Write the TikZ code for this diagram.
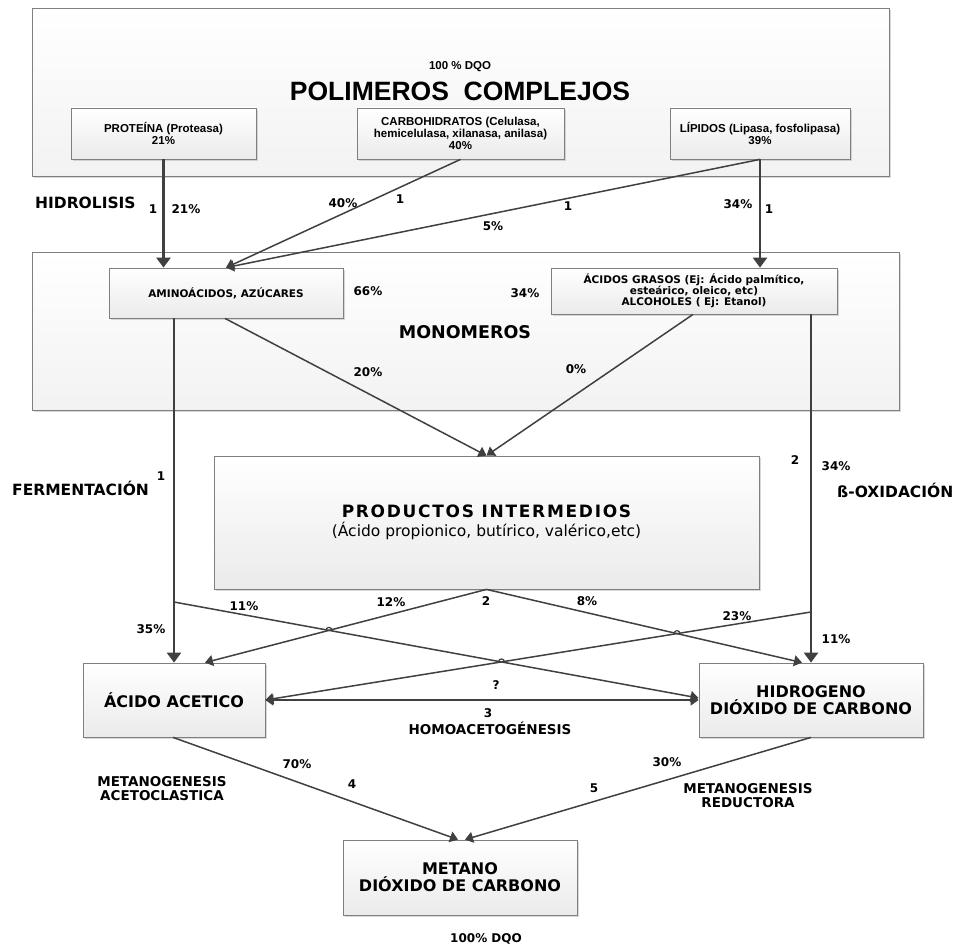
\documentclass[tikz,border=0pt]{standalone}
\usepackage{fontspec}
\setmainfont{Liberation Sans}
\newfontfamily\dvfont{DejaVu Sans}
\usetikzlibrary{arrows.meta,calc,shadows,intersections}
\definecolor{linegray}{HTML}{404040}
\definecolor{boxgray}{HTML}{7F7F7F}
\tikzset{cell/.style={draw=boxgray, line width=0.8pt, top color=white, bottom color=gray!16,
    drop shadow={shadow xshift=2pt, shadow yshift=-2pt, fill=gray!60, opacity=0.5},
    inner sep=0pt, align=center},
  stage/.style={cell, bottom color=gray!10},
  topbox/.style={cell, font=\bfseries\fontsize{11.5}{12}\selectfont},
  midbox/.style={cell, font=\dvfont\bfseries\fontsize{10.5}{11}\selectfont},
  lowbox/.style={cell, font=\dvfont\bfseries\fontsize{16}{17}\selectfont},
  flow/.style={draw=linegray, line width=1.5pt, -{Triangle[length=8pt,width=11pt]}},
  mainflow/.style={flow, line width=2.5pt, -{Triangle[length=10pt,width=14pt]}},
  hop/.style={draw=linegray, line width=1.2pt},
  lbl/.style={font=\dvfont\bfseries\fontsize{12}{14}\selectfont, inner sep=0pt},
  phase/.style={font=\dvfont\bfseries\fontsize{15.5}{17}\selectfont, inner sep=0pt},
  proc/.style={font=\dvfont\bfseries\fontsize{13.5}{14}\selectfont, inner sep=0pt, align=center}}

\begin{document}
\begin{tikzpicture}[x=1pt,y=-1pt]
  \useasboundingbox (0,0) rectangle (956,947);
  % polimeros
  \node[stage, minimum width=857pt, minimum height=168pt] (poly) at (460.5,92) {};
  \node[font=\bfseries\fontsize{11.5}{12}\selectfont] (dqo) at (460,67) {100 \% DQO};
  \node[font=\bfseries\fontsize{26.5}{28}\selectfont] (polyname) at (460,91) {POLIMEROS\ \ COMPLEJOS};
  \node[topbox, minimum width=185pt, minimum height=51pt] (prot) at (163.5,133.5) {PROTEÍNA (Proteasa)\\21\%};
  \node[topbox, minimum width=207pt, minimum height=51pt] (carb) at (460.5,133.5) {CARBOHIDRATOS (Celulasa,\\hemicelulasa, xilanasa, anilasa)\\40\%};
  \node[topbox, minimum width=180pt, minimum height=51pt] (lip) at (760,133.5) {LÍPIDOS (Lipasa, fosfolipasa)\\39\%};
  % monomeros
  \node[stage, minimum width=867pt, minimum height=158pt] (mono) at (465.5,331) {};
  \node[font=\dvfont\bfseries\fontsize{17.5}{20}\selectfont] (mononame) at (465,332) {MONOMEROS};
  \node[midbox, minimum width=234pt, minimum height=50pt] (amino) at (226,293) {AMINOÁCIDOS, AZÚCARES};
  \node[midbox, minimum width=286pt, minimum height=46pt] (grasos) at (694,291) {ÁCIDOS GRASOS (Ej: Ácido palmítico,\\esteárico, oleico, etc)\\ALCOHOLES ( Ej: Etanol)};
  % intermedios y productos
  \node[cell, minimum width=545pt, minimum height=133pt] (prod) at (486.5,522.5)
    {{\dvfont\bfseries\fontsize{17}{18}\selectfont\addfontfeature{LetterSpace=10}PRODUCTOS INTERMEDIOS}\\[3pt]
     {\dvfont\fontsize{15.5}{16}\selectfont(Ácido propionico, butírico, valérico,etc)}};
  \node[lowbox, minimum width=182pt, minimum height=74pt] (acet) at (174,700) {ÁCIDO ACETICO};
  \node[lowbox, minimum width=224pt, minimum height=74pt] (hidr) at (811,700) {HIDROGENO\\DIÓXIDO DE CARBONO};
  \node[lowbox, minimum width=234pt, minimum height=75pt] (met) at (460,877.5) {METANO\\DIÓXIDO DE CARBONO};
  % hidrolisis
  \draw[mainflow] (prot.south) -- (prot.south |- amino.north);
  \draw[flow] (carb.south) -- (amino.north);
  \draw[flow] (lip.south) -- (amino.north);
  \draw[mainflow] (lip.south) -- (lip.south |- grasos.north);
  % fermentacion / beta-oxidacion
  \draw[flow] ([xshift=-1pt]amino.south) -- (prod.north);
  \draw[flow] ([xshift=-1pt]grasos.south) -- (prod.north);
  \draw[mainflow] (amino.south -| acet.north) -- (acet.north);
  \draw[mainflow] (grasos.south -| hidr.north) -- (hidr.north);
  \coordinate (fermtap) at (174,602);
  \coordinate (betatap) at (811,612);
  \draw[flow, name path=l2] (prod.south) -- ([xshift=31pt]acet.north);
  \draw[flow, name path=l3] (prod.south) -- ([xshift=-9pt]hidr.north);
  \draw[flow, name path=l1] (fermtap) -- ([yshift=2pt]hidr.west);
  \draw[flow, name path=l4] (betatap) -- (acet.east);
  \draw[flow, {Triangle[length=8pt,width=11pt]}-{Triangle[length=8pt,width=11pt]}] (acet.east) -- (hidr.west);
  \path[name intersections={of=l1 and l2, by=h12}];
  \path[name intersections={of=l1 and l4, by=h14}];
  \path[name intersections={of=l3 and l4, by=h34}];
  \foreach \h in {h12,h14,h34}
    \draw[hop] ([xshift=-3pt]\h) arc[start angle=180, end angle=0, radius=3pt];
  % metanogenesis
  \draw[flow] ([xshift=-1pt]acet.south) -- ([xshift=-2pt]met.north);
  \draw[flow] (hidr.south) -- ([xshift=5pt]met.north);
  % labels
  \node[phase, anchor=west] (hidro) at (35,203) {HIDROLISIS};
  \node[phase, anchor=west] (ferm) at (12,488) {FERMENTACIÓN};
  \node[phase, anchor=west] (beta) at (837,490) {ß-OXIDACIÓN};
  \foreach \n/\x/\y/\t in {a/153/209/1, b/186/209/21\%, c/343/203/40\%, d/400/199/1,
      e/568/206/1, f/493/226/5\%, g/738/204/34\%, h/769/209/1, i/368/291/66\%, j/525/293/34\%,
      k/368/372/20\%, l/576/369/0\%, m/161/476/1, n/795/460/2, o/836/466/34\%,
      p/244/606/11\%, q/391/602/12\%, r/486/601/2, s/587/601/8\%, t/737/616/23\%,
      u/151/629/35\%, v/836/639/11\%, w/496/685/?, x/488/713/3,
      y/297/764/70\%, z/352/784/4, aa/667/762/30\%, ab/594/788/5}
    \node[lbl] (v\n) at (\x,\y) {\t};
  \node[proc] (homo) at (490,728) {HOMOACETOGÉNESIS};
  \node[proc] (acetoc) at (162,789) {METANOGENESIS\\ACETOCLASTICA};
  \node[proc] (reduc) at (748,796) {METANOGENESIS\\REDUCTORA};
  \node[lbl] (dqoend) at (486,939) {100\% DQO};
\end{tikzpicture}
\end{document}
